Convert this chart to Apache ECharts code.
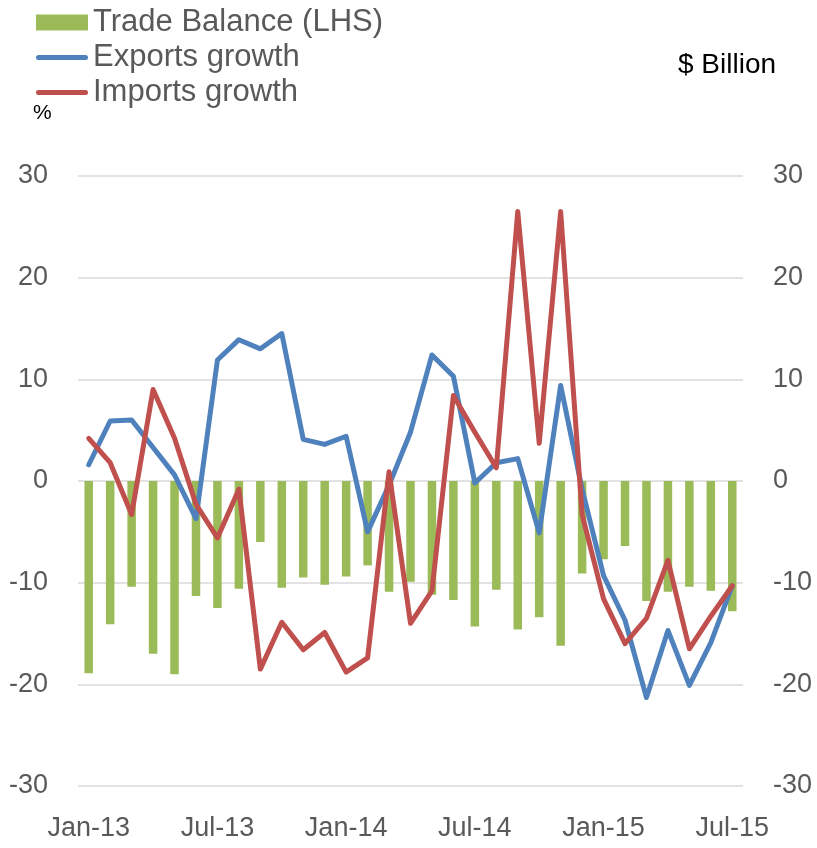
<!DOCTYPE html>
<html>
<head>
<meta charset="utf-8">
<title>Trade Balance and Trade Growth</title>
<script src="https://cdn.jsdelivr.net/npm/echarts@6/dist/echarts.min.js"></script>
<style>
  html, body { margin: 0; padding: 0; background: #ffffff; }
  #chart { width: 817px; height: 848px; }
</style>
</head>
<body>
<div id="chart"></div>
<script>
// Monthly categories, Jan-13 to Jul-15
const months = [
  'Jan-13','Feb-13','Mar-13','Apr-13','May-13','Jun-13','Jul-13','Aug-13','Sep-13','Oct-13','Nov-13','Dec-13',
  'Jan-14','Feb-14','Mar-14','Apr-14','May-14','Jun-14','Jul-14','Aug-14','Sep-14','Oct-14','Nov-14','Dec-14',
  'Jan-15','Feb-15','Mar-15','Apr-15','May-15','Jun-15','Jul-15'
];

// Trade balance, $ billion
const tradeBalance = [
  -18.9, -14.1, -10.4, -17.0, -19.0, -11.3, -12.5, -10.6, -6.0, -10.5, -9.5, -10.2,
  -9.4, -8.3, -10.9, -9.9, -11.2, -11.7, -14.3, -10.7, -14.6, -13.4, -16.2, -9.1,
  -7.7, -6.4, -11.8, -10.9, -10.4, -10.8, -12.8
];

// Exports growth, %
const exportsGrowth = [
  1.6, 5.9, 6.0, 3.3, 0.6, -3.7, 11.9, 13.9, 13.0, 14.5, 4.1, 3.6,
  4.4, -5.0, -0.4, 4.8, 12.4, 10.3, -0.2, 1.8, 2.2, -5.1, 9.4, -0.8,
  -9.3, -13.7, -21.3, -14.7, -20.1, -15.9, -10.3
];

// Imports growth, %
const importsGrowth = [
  4.2, 1.8, -3.3, 9.0, 4.2, -2.3, -5.6, -0.8, -18.5, -13.9, -16.6, -14.9,
  -18.8, -17.4, 0.9, -14.0, -10.8, 8.4, 4.8, 1.3, 26.5, 3.7, 26.5, -3.3,
  -11.6, -16.0, -13.5, -7.8, -16.5, -13.3, -10.3
];

// Shared value-axis ticks
const axisMin = -30;
const axisMax = 30;
const axisStep = 10;

const FONT = '"Liberation Sans", Arial, sans-serif';
const LABEL_GREY = '#595959';
const GREEN = '#9bbb59';
const BLUE = '#4f81bd';
const RED = '#c0504d';

// Flat stroke used as the legend marker for the two line series
const LINE_ICON = 'path://M2.5,0H49.5A2.5,2.5,0,0,1,49.5,5H2.5A2.5,2.5,0,0,1,2.5,0Z';

const chart = echarts.init(document.getElementById('chart'), null, { renderer: 'canvas' });

const valueAxis = (position, showGrid) => ({
  type: 'value',
  position: position,
  min: axisMin,
  max: axisMax,
  interval: axisStep,
  axisLine: { show: false },
  axisTick: { show: false },
  splitLine: { show: showGrid, lineStyle: { color: '#d9d9d9', width: 1.5 } },
  axisLabel: {
    margin: 30,
    color: LABEL_GREY,
    fontFamily: FONT,
    fontSize: 27
  }
});

chart.setOption({
  animation: false,
  backgroundColor: '#ffffff',
  grid: { left: 78, right: 74, top: 176, bottom: 62, containLabel: false },
  legend: {
    orient: 'vertical',
    left: 31,
    top: 2,
    itemWidth: 52,
    itemHeight: 16,
    itemGap: 4,
    symbolKeepAspect: true,
    textStyle: { color: LABEL_GREY, fontFamily: FONT, fontSize: 31, lineHeight: 31 },
    data: [
      { name: 'Trade Balance (LHS)', icon: 'rect' },
      { name: 'Exports growth', icon: LINE_ICON },
      { name: 'Imports growth', icon: LINE_ICON }
    ]
  },
  graphic: [
    {
      type: 'text', left: 33, top: 103,
      style: { text: '%', fill: '#000000', font: '21px ' + FONT }
    },
    {
      type: 'text', left: 678, top: 51,
      style: { text: '$ Billion', fill: '#000000', font: '28px ' + FONT }
    }
  ],
  xAxis: {
    type: 'category',
    data: months,
    boundaryGap: true,
    axisLine: { show: false },
    axisTick: { show: false },
    axisLabel: {
      interval: 5,
      margin: 29,
      color: LABEL_GREY,
      fontFamily: FONT,
      fontSize: 27
    }
  },
  yAxis: [valueAxis('left', true), valueAxis('right', false)],
  series: [
    {
      name: 'Trade Balance (LHS)',
      type: 'bar',
      yAxisIndex: 0,
      data: tradeBalance,
      barWidth: 8.5,
      itemStyle: { color: GREEN }
    },
    {
      name: 'Exports growth',
      type: 'line',
      yAxisIndex: 1,
      data: exportsGrowth,
      symbol: 'none',
      lineStyle: { color: BLUE, width: 5, cap: 'round', join: 'round' },
      itemStyle: { color: BLUE }
    },
    {
      name: 'Imports growth',
      type: 'line',
      yAxisIndex: 1,
      data: importsGrowth,
      symbol: 'none',
      lineStyle: { color: RED, width: 5, cap: 'round', join: 'round' },
      itemStyle: { color: RED }
    }
  ]
});
</script>
</body>
</html>
